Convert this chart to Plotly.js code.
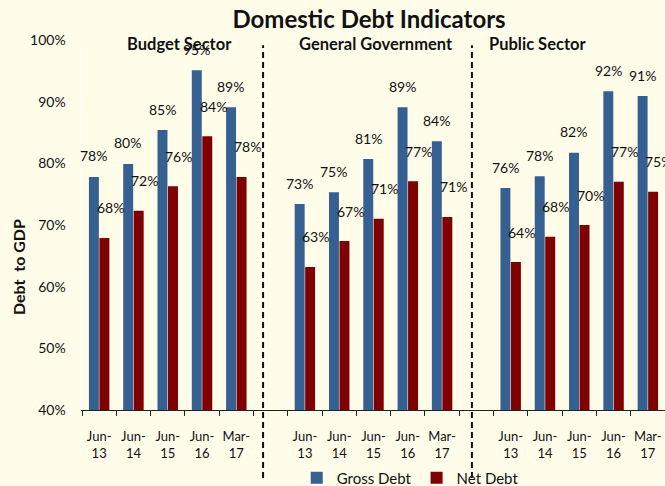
<!DOCTYPE html>
<html><head><meta charset="utf-8">
<script src="https://cdn.plot.ly/plotly-3.0.1.min.js"></script>
<style>html,body{margin:0;padding:0;background:#FFFDE9;overflow:hidden}</style>
</head><body>
<div id="chart" style="width:665px;height:486px"></div>
<script>
const periods = ['Jun-13','Jun-14','Jun-15','Jun-16','Mar-17'];
const sectors = ['Budget Sector','General Government','Public Sector'];
const grossBudget = [77.8, 79.9, 85.4, 95.1, 89.1];
const netBudget   = [67.9, 72.3, 76.3, 84.4, 77.8];
const grossGeneral = [73.4, 75.3, 80.7, 89.1, 83.6];
const netGeneral   = [63.2, 67.4, 71.0, 77.1, 71.3];
const grossPublic = [76.0, 77.9, 81.7, 91.7, 90.9];
const netPublic   = [64.0, 68.1, 70.0, 77.0, 75.4];

const grossAll = [grossBudget, grossGeneral, grossPublic];
const netAll = [netBudget, netGeneral, netPublic];

const FONT = 'Lato, "Open Sans", sans-serif';
const xs = [], gy = [], ny = [], tickvals = [], ticktext = [];
sectors.forEach((s, si) => {
  periods.forEach((p, pi) => {
    const x = si * 6 + pi;
    xs.push(x);
    gy.push(grossAll[si][pi]);
    ny.push(netAll[si][pi]);
    tickvals.push(x);
    ticktext.push(p.replace('-', '-<br>'));
  });
});

const traces = [
  {type:'bar', name:'Gross Debt', x:xs, y:gy, marker:{color:'#376092'}, hoverinfo:'skip'},
  {type:'bar', name:'Net Debt', x:xs, y:ny, marker:{color:'#7F0000'}, hoverinfo:'skip'}
];

const annotations = [];
xs.forEach((x, i) => {
  annotations.push({x:x, y:gy[i], xref:'x', yref:'y', text:Math.round(gy[i]) + '%', showarrow:false,
    xshift:-5.5, yshift:21, yanchor:'middle', font:{family:FONT, size:14, color:'#111'}});
  annotations.push({x:x, y:ny[i], xref:'x', yref:'y', text:Math.round(ny[i]) + '%', showarrow:false,
    xshift:11, yshift:30, yanchor:'middle', font:{family:FONT, size:14, color:'#111'}});
});
const sectorLabelX = [0.168, 0.504, 0.782];
sectors.forEach((s, si) => {
  annotations.push({x:sectorLabelX[si], y:0.989, xref:'paper', yref:'paper', text:'<b>' + s + '</b>',
    showarrow:false, xanchor:'center', yanchor:'middle', font:{family:FONT, size:16.5, color:'#111'}});
});
annotations.push({x:-0.11, y:0.386, xref:'paper', yref:'paper', text:'<b>Debt  to GDP</b>', textangle:-90,
  showarrow:false, xanchor:'center', yanchor:'middle', font:{family:FONT, size:16, color:'#111'}});

const sepX = [4.78, 10.87];
const shapes = sepX.map(x => ({type:'line', xref:'x', yref:'paper', x0:x, x1:x, y0:-0.184, y1:0.986,
  line:{color:'#111', width:2, dash:'6px,4px'}}));

const layout = {
  width:665, height:486,
  margin:{l:82, r:0, t:40, b:76, autoexpand:false},
  paper_bgcolor:'#FFFDE9', plot_bgcolor:'#FFFDE9',
  title:{text:'<b>Domestic Debt Indicators</b>', x:0.555, xanchor:'center', y:0.959, yanchor:'middle',
    font:{family:FONT, size:24, color:'#111'}},
  barmode:'group', bargap:0.388, bargroupgap:0.05,
  showlegend:true,
  legend:{orientation:'h', x:0.563, xanchor:'center', y:-0.184, yanchor:'middle', itemwidth:30,
    font:{family:FONT, size:15, color:'#111'}, bgcolor:'rgba(0,0,0,0)', traceorder:'normal'},
  xaxis:{range:[-0.5, 16.5], tickmode:'array', tickvals:tickvals, ticktext:ticktext, ticks:'',
    showline:true, linecolor:'#222', linewidth:1, showgrid:false, zeroline:false, fixedrange:true,
    tickfont:{family:FONT, size:13, color:'#111'}, ticklabelstandoff:14,
    minor:{tickmode:'linear', tick0:-0.5, dtick:1, ticks:'outside', ticklen:5, tickcolor:'#222', tickwidth:1, showgrid:false}},
  yaxis:{range:[40, 100], dtick:10, ticksuffix:'%', ticks:'', showline:true, linecolor:'#FFFFFF', linewidth:1.5,
    showgrid:false, zeroline:false, fixedrange:true, tickfont:{family:FONT, size:14, color:'#111'}, ticklabelstandoff:12},
  annotations:annotations,
  shapes:shapes
};
Plotly.newPlot('chart', traces, layout, {displayModeBar:false, staticPlot:true});
</script>
</body></html>
